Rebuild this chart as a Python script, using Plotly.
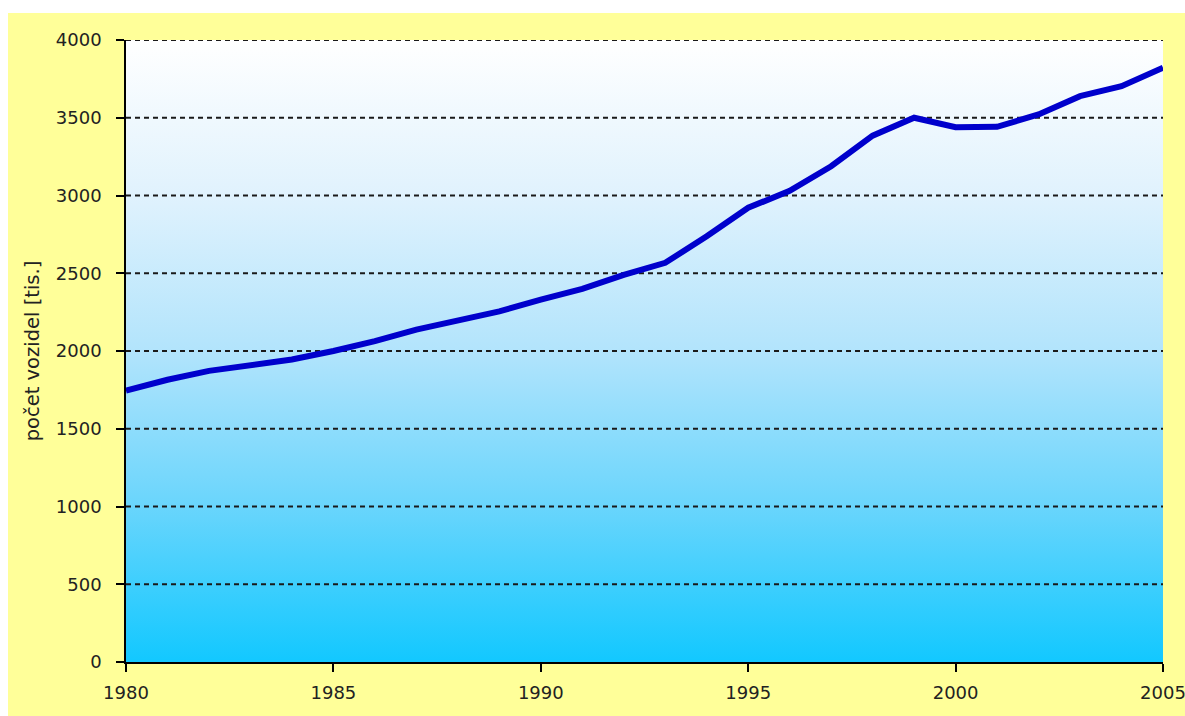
import plotly.graph_objects as go

years = list(range(1980, 2006))
vehicles = [1745, 1815, 1872, 1912, 1945, 2000, 2063, 2138, 2200, 2255,
            2330, 2400, 2490, 2567, 2738, 2921, 3030, 3188, 3385, 3500,
            3439, 3442, 3521, 3639, 3703, 3821]

x_range = [1980, 2005]
y_range = [0, 4000]
x_ticks = [1980, 1985, 1990, 1995, 2000, 2005]
y_ticks = [0, 500, 1000, 1500, 2000, 2500, 3000, 3500, 4000]
y_title = "počet vozidel [tis.]"

W, H = 1185, 716
ML, MR, MT, MB = 126, 22, 40, 54
pw = W - ML - MR
ph = H - MT - MB

fig = go.Figure()

# gradient plot background
fig.add_trace(go.Scatter(
    x=[x_range[0], x_range[1], x_range[1], x_range[0]],
    y=[y_range[0], y_range[0], y_range[1], y_range[1]],
    fill="toself", mode="none", hoverinfo="skip", showlegend=False,
    fillgradient=dict(type="vertical", colorscale=[
        [0.0, "rgb(18,200,255)"],
        [0.25, "rgb(105,213,252)"],
        [0.5, "rgb(178,228,252)"],
        [0.75, "rgb(224,242,253)"],
        [1.0, "rgb(255,255,255)"],
    ]),
))

# dashed gridlines above the background
gx, gy = [], []
for t in y_ticks[1:]:
    gx += [x_range[0], x_range[1], None]
    gy += [t, t, None]
fig.add_trace(go.Scatter(
    x=gx, y=gy, mode="lines", hoverinfo="skip", showlegend=False,
    line=dict(color="#1a1a1a", width=2, dash="5px,4px"),
))

fig.add_trace(go.Scatter(
    x=years, y=vehicles, mode="lines", showlegend=False,
    line=dict(color="#0000CC", width=6),
))

font = dict(family="DejaVu Sans", size=18, color="#222222")
title_font = dict(family="DejaVu Sans", size=19.5, color="#222222")

fig.update_layout(
    width=W, height=H,
    margin=dict(l=ML, r=MR, t=MT, b=MB, pad=0, autoexpand=False),
    paper_bgcolor="#FFFF99",
    plot_bgcolor="rgba(0,0,0,0)",
    font=font,
    shapes=[
        dict(type="rect", xref="paper", yref="paper", layer="below",
             x0=-0.3, x1=1.3, y0=(ph + 27) / ph, y1=1.3,
             fillcolor="white", line=dict(width=0)),
        dict(type="rect", xref="paper", yref="paper", layer="below",
             x0=-0.3, x1=-(ML - 8) / pw, y0=-0.3, y1=1.3,
             fillcolor="white", line=dict(width=0)),
    ],
    xaxis=dict(
        range=x_range, tickvals=x_ticks, ticks="outside", ticklen=8,
        tickcolor="black", tickwidth=1.5, showline=True, linecolor="black",
        linewidth=1.5, showgrid=False, zeroline=False, ticklabelstandoff=6,
        tickfont=font, ticklabeloverflow="allow", automargin=False,
    ),
    yaxis=dict(
        range=y_range, tickvals=y_ticks, ticks="outside", ticklen=8,
        tickcolor="black", tickwidth=1.5, showline=True, linecolor="black",
        linewidth=1.5, showgrid=False, zeroline=False, ticklabelstandoff=11,
        tickfont=font, automargin=False,
        title=dict(text=y_title, font=title_font, standoff=11),
    ),
)

fig.write_html(
    "out.html",
    config={"displayModeBar": False},
    post_script=(
        "document.body.style.margin='0';"
        "document.body.style.overflow='hidden';"
        "document.documentElement.style.overflow='hidden';"
        "document.documentElement.style.background='#FFFF99';"
        "document.body.style.background='#FFFF99';"
    ),
)
